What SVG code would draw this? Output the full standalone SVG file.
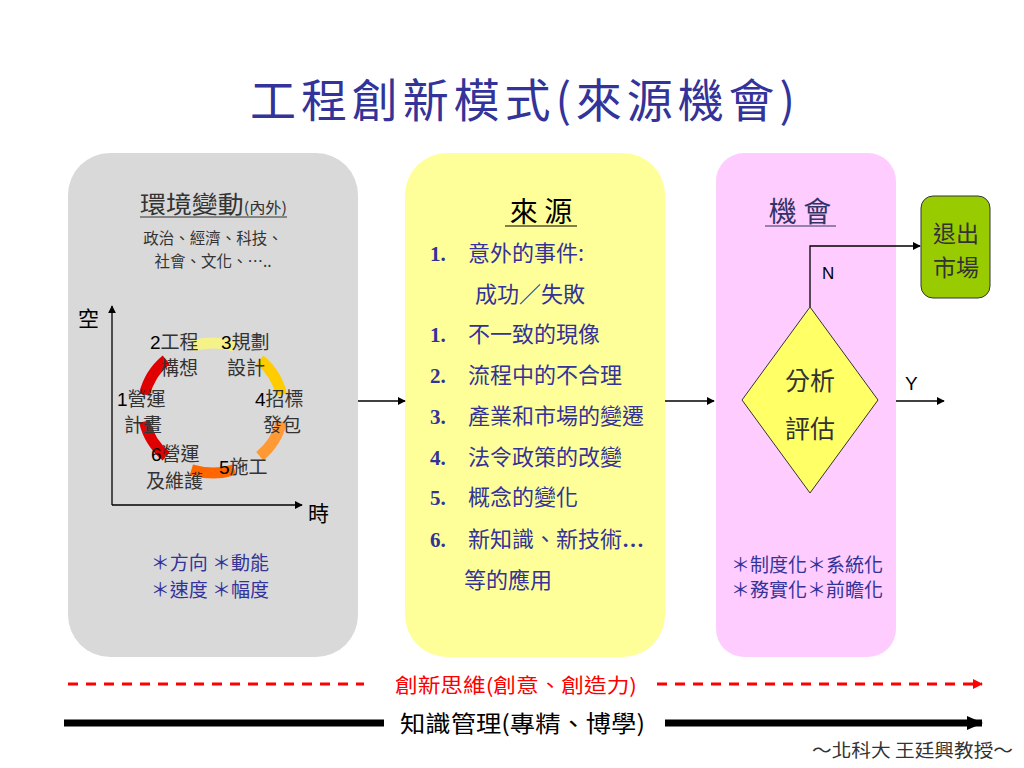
<svg xmlns="http://www.w3.org/2000/svg" width="1024" height="768" viewBox="0 0 1024 768">
<defs>
<style>
.cjk{font-family:"Noto Sans CJK TC","Noto Sans CJK SC",sans-serif;}
.blue{fill:#333399;}
.dk{fill:#333333;}
.num{font-family:"Liberation Serif",serif;font-weight:bold;fill:#333399;font-size:21px;}
.item{font-family:"Noto Sans CJK TC",sans-serif;fill:#333399;font-size:22px;}
.cyc{font-family:"Noto Sans CJK TC",sans-serif;fill:#333333;font-size:19px;}
.cycn{font-family:"Liberation Sans",sans-serif;fill:#000;}
.thin{stroke:#000;stroke-width:1.3;fill:none;}
.arc{fill:none;stroke-width:11;}
</style>
<marker id="ah" viewBox="0 0 10 10" refX="9" refY="5" markerWidth="8" markerHeight="8" markerUnits="userSpaceOnUse" orient="auto"><path d="M0,0 L10,5 L0,10 z" fill="#000"/></marker>
<marker id="ahr" viewBox="0 0 10 10" refX="9" refY="5" markerWidth="10" markerHeight="10" markerUnits="userSpaceOnUse" orient="auto"><path d="M0,0 L10,5 L0,10 z" fill="#ff0000"/></marker>
<marker id="ahb" viewBox="0 0 16 14" refX="15" refY="7" markerWidth="16" markerHeight="14" markerUnits="userSpaceOnUse" orient="auto"><path d="M0,0 L16,7 L0,14 z" fill="#000"/></marker>
</defs>
<rect width="1024" height="768" fill="#ffffff"/>

<g id="title">
<text x="250" y="117" class="cjk blue" font-size="46" textLength="545" lengthAdjust="spacing">工程創新模式(來源機會)</text>
</g>

<g id="env">
<rect x="68" y="153" width="290" height="504" rx="42" fill="#d9d9d9"/>
<text x="140" y="213" class="cjk dk" font-size="24" textLength="147" lengthAdjust="spacingAndGlyphs">環境變動<tspan font-size="15">(內外)</tspan></text>
<line x1="140" y1="217" x2="287" y2="217" stroke="#333" stroke-width="1"/>
<text x="213" y="244" class="cjk dk" font-size="15.5" text-anchor="middle">政治、經濟、科技、</text>
<text x="213" y="267" class="cjk dk" font-size="15.5" text-anchor="middle">社會、文化、…..</text>
<text x="78" y="326" class="cjk" fill="#000" font-size="21">空</text>
<text x="308" y="521" class="cjk" fill="#000" font-size="21">時</text>
<path d="M191.4,346.2 A70,65 0 0 1 234.6,346.2" class="arc" stroke="#f6f28a"/>
<path d="M259.8,359.7 A70,65 0 0 1 281.5,394.5" class="arc" stroke="#ffcc00"/>
<path d="M281.5,421.5 A70,65 0 0 1 259.8,456.3" class="arc" stroke="#ff9933"/>
<path d="M234.6,469.8 A70,65 0 0 1 191.4,469.8" class="arc" stroke="#ff6600"/>
<path d="M166.2,456.3 A70,65 0 0 1 144.5,421.5" class="arc" stroke="#e00000"/>
<path d="M144.5,394.5 A70,65 0 0 1 166.2,359.7" class="arc" stroke="#e00000"/>
<text x="150" y="349" class="cyc"><tspan class="cycn">2</tspan>工程</text>
<text x="160" y="375" class="cyc">構想</text>
<text x="221" y="349" class="cyc"><tspan class="cycn">3</tspan>規劃</text>
<text x="227" y="375" class="cyc">設計</text>
<text x="117" y="406" class="cyc"><tspan class="cycn">1</tspan>營運</text>
<text x="124" y="432" class="cyc">計畫</text>
<text x="255" y="406" class="cyc"><tspan class="cycn">4</tspan>招標</text>
<text x="263" y="432" class="cyc">發包</text>
<text x="151" y="461" class="cyc"><tspan class="cycn">6</tspan>營運</text>
<text x="146" y="488" class="cyc">及維護</text>
<text x="219" y="474" class="cyc"><tspan class="cycn">5</tspan>施工</text>
<text x="210" y="570" class="cjk blue" font-size="19" text-anchor="middle">＊方向 ＊動能</text>
<text x="210" y="597" class="cjk blue" font-size="19" text-anchor="middle">＊速度 ＊幅度</text>
</g>

<g id="source">
<rect x="405" y="153" width="260" height="504" rx="42" fill="#ffff99"/>
<text x="541" y="222" class="cjk" fill="#000" font-size="28" text-anchor="middle">來 源</text>
<line x1="505" y1="226" x2="577" y2="226" stroke="#000" stroke-width="1.2"/>
<text x="430" y="261" class="num">1.</text><text x="468" y="261" class="item">意外的事件:</text>
<text x="475" y="302" class="item">成功／失敗</text>
<text x="430" y="342" class="num">1.</text><text x="468" y="342" class="item">不一致的現像</text>
<text x="430" y="383" class="num">2.</text><text x="468" y="383" class="item">流程中的不合理</text>
<text x="430" y="424" class="num">3.</text><text x="468" y="424" class="item">產業和市場的變遷</text>
<text x="430" y="465" class="num">4.</text><text x="468" y="465" class="item">法令政策的改變</text>
<text x="430" y="505" class="num">5.</text><text x="468" y="505" class="item">概念的變化</text>
<text x="430" y="547" class="num">6.</text><text x="468" y="547" class="item">新知識、新技術<tspan font-family="Liberation Serif" font-weight="bold">…</tspan></text>
<text x="464" y="588" class="item">等的應用</text>
</g>

<g id="opportunity">
<rect x="716" y="153" width="180" height="504" rx="28" fill="#ffccff"/>
<text x="800" y="222" class="cjk" fill="#333366" font-size="28" text-anchor="middle">機 會</text>
<line x1="765" y1="226" x2="836" y2="226" stroke="#333366" stroke-width="1.2"/>
<text x="807" y="572" class="cjk blue" font-size="19" text-anchor="middle">＊制度化＊系統化</text>
<text x="807" y="597" class="cjk blue" font-size="19" text-anchor="middle">＊務實化＊前瞻化</text>
</g>

<g id="analysis">
<polygon points="810,307 878,400 810,493 742,400" fill="#ffff66" stroke="#333" stroke-width="1"/>
<text x="810" y="390" class="cjk dk" font-size="25" text-anchor="middle">分析</text>
<text x="810" y="438" class="cjk dk" font-size="25" text-anchor="middle">評估</text>
</g>

<g id="exit">
<rect x="921" y="196" width="69" height="102" rx="12" fill="#99cc00" stroke="#333" stroke-width="1"/>
<text x="956" y="242" class="cjk dk" font-size="23" text-anchor="middle">退出</text>
<text x="956" y="276" class="cjk dk" font-size="23" text-anchor="middle">市場</text>
</g>

<g id="connectors">
<line x1="112" y1="505" x2="112" y2="306" class="thin" marker-end="url(#ah)"/>
<line x1="112" y1="505" x2="302" y2="505" class="thin" marker-end="url(#ah)"/>
<line x1="358" y1="401" x2="405" y2="401" class="thin" marker-end="url(#ah)"/>
<line x1="665" y1="401" x2="714" y2="401" class="thin" marker-end="url(#ah)"/>
<polyline points="810,307 810,246 920,246" class="thin" marker-end="url(#ah)"/>
<text x="822" y="279" font-family="Liberation Sans,sans-serif" font-size="17" fill="#000">N</text>
<line x1="896" y1="401" x2="944" y2="401" class="thin" marker-end="url(#ah)"/>
<text x="905" y="390" font-family="Liberation Sans,sans-serif" font-size="19" fill="#000">Y</text>
</g>

<g id="bottom">
<line x1="68" y1="684" x2="364" y2="684" stroke="#ff0000" stroke-width="3" stroke-dasharray="10,8"/>
<line x1="657" y1="684" x2="982" y2="684" stroke="#ff0000" stroke-width="3" stroke-dasharray="10,8" marker-end="url(#ahr)"/>
<text x="395" y="693" class="cjk" fill="#ff0000" font-size="20" textLength="242" lengthAdjust="spacingAndGlyphs">創新思維(創意、創造力)</text>
<line x1="64" y1="723" x2="384" y2="723" stroke="#000" stroke-width="7"/>
<line x1="665" y1="723" x2="982" y2="723" stroke="#000" stroke-width="7" marker-end="url(#ahb)"/>
<text x="400" y="732" class="cjk" fill="#000" font-size="23" textLength="245" lengthAdjust="spacingAndGlyphs">知識管理(專精、博學)</text>
<text x="812" y="757" class="cjk dk" font-size="18" textLength="201" lengthAdjust="spacingAndGlyphs">～北科大 王廷興教授～</text>
</g>
</svg>
